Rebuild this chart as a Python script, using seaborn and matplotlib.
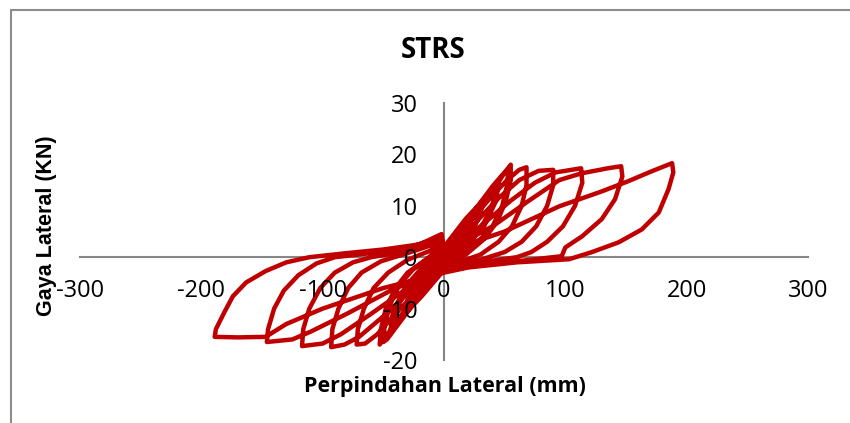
import pandas as pd
import seaborn as sns
import matplotlib.pyplot as plt
from matplotlib.lines import Line2D

# displacement (mm) / lateral force (kN), one list pair per load cycle
disp_c1 = [0, 3, 5, 4, 2, 0, -3, -5, -4, -2, 0]
force_c1 = [0, 1.2, 2, 1.3, 0.4, -0.3, -1.2, -2, -1.3, -0.4, 0.3]

disp_c2 = [0, 6, 12, 11, 7, 3, 0, -6, -12, -11, -7, -3, 0]
force_c2 = [0.3, 2.3, 4.5, 3.3, 1.5, 0.2, -0.6, -2.3, -4.5, -3.3, -1.5, -0.2, 0.6]

disp_c3 = [0, 10, 22, 20, 14, 6, 0, -10, -22, -20, -14, -6, 0]
force_c3 = [0.6, 3.8, 8, 5.8, 3, 0.5, -1, -3.8, -8, -5.8, -3, -0.5, 1]

disp_c4 = [0, 15, 32, 30, 22, 10, 0, -15, -32, -30, -22, -10, 0]
force_c4 = [1, 5.5, 11, 8.3, 4.5, 1, -1.5, -5.5, -11, -8.3, -4.5, -1, 1.5]

disp_c5 = [0, 20, 42, 40, 30, 15, 0, -20, -40, -38, -28, -14, 0]
force_c5 = [1.5, 7, 13.5, 10, 5.5, 1.5, -2, -7, -13, -9.5, -5, -1.2, 2]

disp_c5b = [0, 18, 38, 45, 43, 33, 16, 0, -18, -36, -44, -42, -31, -15, 0]
force_c5b = [2, 7.5, 12.5, 14.5, 11, 6, 1.5, -2.5, -7.5, -12, -14, -10.5, -5.5, -1.2, 2.5]

disp_c6 = [0, 15, 30, 42, 50, 55, 55, 51, 44, 33, 18, 0,
           -15, -30, -42, -50, -53, -52, -48, -40, -30, -15, -2, 0]
force_c6 = [1, 5, 9.5, 13.5, 16.5, 18, 15, 11, 7, 3.5, 0.5, -1.5,
            -5, -9.5, -13.5, -16, -17, -14, -10, -6, -3, -0.5, 2, 1]

disp_c6b = [0, 14, 28, 40, 48, 53, 52, 48, 40, 28, 14, 0,
            -14, -28, -40, -47, -50, -49, -45, -37, -26, -12, -2, 0]
force_c6b = [1.5, 5.5, 10, 13.8, 16, 17, 14, 10, 6, 3, 0.3, -2,
             -5.5, -10, -13.8, -16, -16.5, -13.5, -9.5, -5.5, -2.5, 0, 2.5, 1]

disp_c7 = [0, 20, 38, 52, 62, 68, 68, 64, 56, 45, 30, 12, 0,
           -20, -40, -55, -65, -72, -71, -66, -58, -46, -30, -12, -2, 0]
force_c7 = [1, 6.5, 11.5, 15, 17, 17.5, 14, 10, 6, 3, 0.5, -1, -2,
            -6, -11, -15, -16.8, -17, -14, -10, -6, -3, -0.5, 1.2, 2.5, 1]

disp_c8 = [0, 25, 45, 62, 78, 90, 90, 85, 76, 64, 50, 30, 0,
           -25, -50, -70, -82, -93, -92, -87, -79, -68, -52, -30, -2, 0]
force_c8 = [1, 6.5, 11.5, 15, 16.8, 17, 14, 10, 6, 3, 1, -0.5, -2,
            -6, -11.5, -15.5, -17, -17.5, -14, -10, -6, -3, -0.8, 0.8, 3, 1]

disp_c9 = [0, 30, 55, 75, 92, 105, 113, 114, 108, 98, 85, 72, 60, 30, 0,
           -30, -60, -85, -100, -117, -116, -111, -102, -90, -75, -60, -30, -2, 0]
force_c9 = [1, 6, 11, 14.5, 16.5, 17, 17.3, 14.5, 10, 6, 3, 1, 0, -1, -2.5,
            -6, -11, -15, -16.8, -17.3, -14, -10, -6, -3, -1, 0, 1.2, 3.5, 1]

disp_c10 = [0, 40, 70, 95, 113, 135, 146, 147, 141, 130, 114, 100, 97, 60, 20, 0,
            -40, -80, -110, -125, -146, -145, -140, -132, -120, -105, -90, -60, -30, -2, 0]
force_c10 = [1, 6, 11, 15, 16.3, 17.3, 17.7, 15.7, 11.3, 7.4, 4.1, 1.9, 0.2, -0.8, -1.8, -2.8,
             -6, -11, -14.5, -16, -16.5, -14, -10, -6.5, -3.5, -1.2, 0, 0.8, 1.8, 4, 1]

disp_c11 = [0, 50, 95, 130, 152, 171, 188, 189, 185, 177, 163, 144, 122, 103, 60, 20, 0,
            -50, -100, -130, -147, -170, -189, -188, -181, -174, -163, -147, -130, -111,
            -80, -50, -20, -2, 0]
force_c11 = [1, 5, 9.9, 12.8, 14.8, 16.7, 18.3, 16.5, 13.2, 8.7, 5.4, 2.9, 1, -0.4, -1, -2, -3,
             -6, -10, -13, -15.5, -15.6, -15.5, -14, -10.7, -7.6, -4.9, -2.7, -1, 0,
             0.8, 1.5, 2.5, 4.5, 1]

x_ticks = [-300, -200, -100, 0, 100, 200, 300]
y_ticks = [-20, -10, 0, 10, 20, 30]

cycles = [
    (disp_c1, force_c1), (disp_c2, force_c2), (disp_c3, force_c3),
    (disp_c4, force_c4), (disp_c5, force_c5), (disp_c5b, force_c5b),
    (disp_c6, force_c6), (disp_c6b, force_c6b), (disp_c7, force_c7),
    (disp_c8, force_c8), (disp_c9, force_c9), (disp_c10, force_c10),
    (disp_c11, force_c11),
]
rows = []
for n, (d, f) in enumerate(cycles, start=1):
    rows += [(n, x, y) for x, y in zip(d, f)]
df = pd.DataFrame(rows, columns=["cycle", "disp", "force"])

sns.set_style("white")
plt.rcParams["font.family"] = ["Open Sans", "DejaVu Sans"]
plt.rcParams["axes.unicode_minus"] = False
plt.rcParams["text.color"] = "black"

fig = plt.figure(figsize=(8.5, 4.23), dpi=100)
ax = fig.add_axes([80 / 850, 1 - 360 / 423, 728 / 850, 257 / 423])

sns.lineplot(data=df, x="disp", y="force", sort=False, estimator=None,
             color="#C00000", linewidth=3.2, ax=ax,
             solid_joinstyle="round", solid_capstyle="round")

ax.set_xlim(-300, 300)
ax.set_ylim(-20, 30)
ax.set_xticks(x_ticks)
ax.set_yticks(y_ticks)
ax.set_xlabel("")
ax.set_ylabel("")
ax.set_facecolor("none")

for side in ["top", "right"]:
    ax.spines[side].set_visible(False)
ax.spines["left"].set_position(("data", 0))
ax.spines["bottom"].set_position(("data", 0))
for side in ["left", "bottom"]:
    ax.spines[side].set_color("#868686")
    ax.spines[side].set_linewidth(1.5)
    ax.spines[side].set_zorder(1)
ax.xaxis.set_zorder(3)
ax.yaxis.set_zorder(3)

ax.tick_params(axis="both", direction="out", length=5, width=1.5,
               color="#868686", labelsize=17, labelcolor="black")
ax.tick_params(axis="x", pad=11)
ax.tick_params(axis="y", pad=14)

fig.text(433 / 850, 1 - 50 / 423, "STRS", ha="center", va="center",
         fontsize=20, fontweight="bold", color="black")
fig.text(445 / 850, 1 - 386 / 423, "Perpindahan Lateral (mm)", ha="center",
         va="center", fontsize=15.5, fontweight="bold", color="black")
fig.text(47 / 850, 1 - 226 / 423, "Gaya Lateral (KN)", ha="center", va="center",
         rotation=90, fontsize=15.5, fontweight="bold", color="black",
         family="Liberation Sans")

# chart area border
fig.add_artist(Line2D([10.5 / 850, 10.5 / 850], [0, 1 - 10.5 / 423],
                      transform=fig.transFigure, color="#8C8C8C", linewidth=1.5))
fig.add_artist(Line2D([10.5 / 850, 1], [1 - 10.5 / 423, 1 - 10.5 / 423],
                      transform=fig.transFigure, color="#8C8C8C", linewidth=1.5))

fig.savefig("out.png", dpi=100)
